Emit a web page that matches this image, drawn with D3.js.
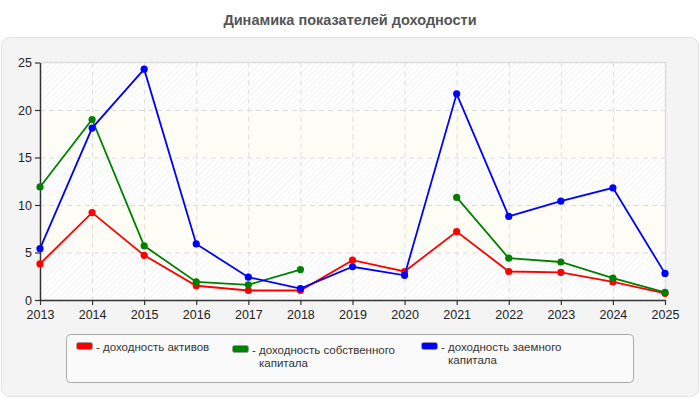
<!DOCTYPE html>
<html lang="ru">
<head>
<meta charset="UTF-8">
<title>Динамика показателей доходности</title>
<script src="https://d3js.org/d3.v7.min.js"></script>
<style>
  body { margin: 0; background: #fff; font-family: "Liberation Sans", Arial, sans-serif; }
  svg { display: block; }
</style>
</head>
<body>
<div id="chart"></div>
<script>
// данные
const years = ["2013","2014","2015","2016","2017","2018","2019","2020","2021","2022","2023","2024","2025"];
const assets = [3.8, 9.2, 4.7, 1.5, 1.0, 1.0, 4.2, 3.0, 7.2, 3.0, 2.9, 1.9, 0.7];
const equity = [11.9, 19.0, 5.7, 1.9, 1.6, 3.2, null, null, 10.8, 4.4, 4.0, 2.3, 0.8];
const borrowed = [5.4, 18.1, 24.3, 5.9, 2.4, 1.2, 3.5, 2.6, 21.7, 8.8, 10.4, 11.8, 2.8];
const yTicks = [0, 5, 10, 15, 20, 25];

const series = [
  { lines: ["- доходность активов"], values: assets, color: "#ff0000" },
  { lines: ["- доходность собственного", "капитала"], values: equity, color: "#008000" },
  { lines: ["- доходность заемного", "капитала"], values: borrowed, color: "#0000ff" }
];

const width = 700, height = 400;
const svg = d3.select("#chart").append("svg")
  .attr("width", width).attr("height", height);

// заголовок и фон
svg.append("text")
  .attr("x", 350).attr("y", 25)
  .attr("text-anchor", "middle")
  .attr("font-size", 14.5).attr("font-weight", "bold")
  .attr("fill", "#555")
  .text("Динамика показателей доходности");

svg.append("rect")
  .attr("x", 1.5).attr("y", 37.5).attr("width", 697).attr("height", 359)
  .attr("rx", 8)
  .attr("fill", "#f4f4f4").attr("stroke", "#e2e2e2");

const defs = svg.append("defs");
const pat = defs.append("pattern")
  .attr("id", "hatch").attr("patternUnits", "userSpaceOnUse")
  .attr("width", 4).attr("height", 4)
  .attr("patternTransform", "rotate(45)");
pat.append("rect").attr("width", 4).attr("height", 4).attr("fill", "#fff");
pat.append("line").attr("x1", 0).attr("y1", 0).attr("x2", 0).attr("y2", 4)
  .attr("stroke", "#efefef").attr("stroke-width", 1.4);

const x = d3.scalePoint().domain(years).range([40, 665]);
const y = d3.scaleLinear().domain([0, 25]).range([300, 62.5]);

const plot = svg.append("g");
plot.append("rect")
  .attr("x", 40).attr("y", y(25)).attr("width", 625).attr("height", y(0) - y(25))
  .attr("fill", "url(#hatch)");

// полосы
plot.selectAll("rect.band")
  .data([5, 15])
  .join("rect")
  .attr("class", "band")
  .attr("x", 40).attr("width", 625)
  .attr("y", d => y(d + 5)).attr("height", d => y(d) - y(d + 5))
  .attr("fill", "#fdfdf5").attr("fill-opacity", 0.9);

// сетка
plot.selectAll("line.hg")
  .data(yTicks.slice(1, -1))
  .join("line")
  .attr("x1", 40).attr("x2", 665)
  .attr("y1", d => y(d) + 0.5).attr("y2", d => y(d) + 0.5)
  .attr("stroke", "#dcdcdc").attr("stroke-dasharray", "5,4");
plot.selectAll("line.vg")
  .data(years.slice(1, -1))
  .join("line")
  .attr("x1", d => x(d) + 0.5).attr("x2", d => x(d) + 0.5)
  .attr("y1", y(25)).attr("y2", y(0))
  .attr("stroke", "#dcdcdc").attr("stroke-dasharray", "5,4");
plot.append("path")
  .attr("d", `M40,${y(25)}H665.5V${y(0)}`)
  .attr("fill", "none").attr("stroke", "#dddddd").attr("stroke-width", 1.5);

// оси
const xAxis = svg.append("g")
  .attr("transform", `translate(0,${y(0)})`)
  .call(d3.axisBottom(x).tickSize(5).tickSizeOuter(0));
const yAxis = svg.append("g")
  .attr("transform", "translate(40,0)")
  .call(d3.axisLeft(y).tickValues(yTicks).tickSize(5).tickSizeOuter(0));
[xAxis, yAxis].forEach(a => {
  a.select(".domain").attr("stroke", "#333").attr("stroke-width", 1.5);
  a.selectAll(".tick line").attr("stroke", "#333").attr("stroke-width", 1.2);
  a.selectAll(".tick text").attr("fill", "#222")
    .attr("font-size", 12.5).attr("font-family", "'Liberation Sans', Arial, sans-serif");
});
xAxis.selectAll(".tick text").attr("dy", "0.85em");

// линии
const line = d3.line()
  .defined(d => d != null)
  .x((d, i) => x(years[i]))
  .y(d => y(d));

series.forEach(s => {
  svg.append("path")
    .attr("d", line(s.values))
    .attr("fill", "none")
    .attr("stroke", s.color)
    .attr("stroke-width", 1.8);
  svg.append("g").selectAll("circle")
    .data(s.values.map((v, i) => ({ v, yr: years[i] })).filter(d => d.v != null))
    .join("circle")
    .attr("cx", d => x(d.yr)).attr("cy", d => y(d.v))
    .attr("r", 3.6)
    .attr("fill", s.color);
});

// легенда
svg.append("rect")
  .attr("x", 66.5).attr("y", 334.5).attr("width", 567).attr("height", 48)
  .attr("rx", 4)
  .attr("fill", "#fafafa").attr("stroke", "#aaaaaa");

const legendX = [76, 232, 421];
const legendDy = [0, 3, 0];
series.forEach((s, i) => {
  const g = svg.append("g")
    .attr("transform", `translate(${legendX[i]},${342 + legendDy[i]})`);
  g.append("rect")
    .attr("x", 0.5).attr("y", 0.5).attr("width", 16).attr("height", 7)
    .attr("rx", 2)
    .attr("fill", s.color).attr("stroke", "#999").attr("stroke-width", 0.8);
  const t = g.append("text")
    .attr("x", 20).attr("y", 9)
    .attr("font-size", 11.5).attr("fill", "#333");
  s.lines.forEach((l, j) => {
    t.append("tspan")
      .attr("x", j === 0 ? 20 : 27)
      .attr("dy", j === 0 ? 0 : 12.5)
      .text(l);
  });
});
</script>
</body>
</html>
